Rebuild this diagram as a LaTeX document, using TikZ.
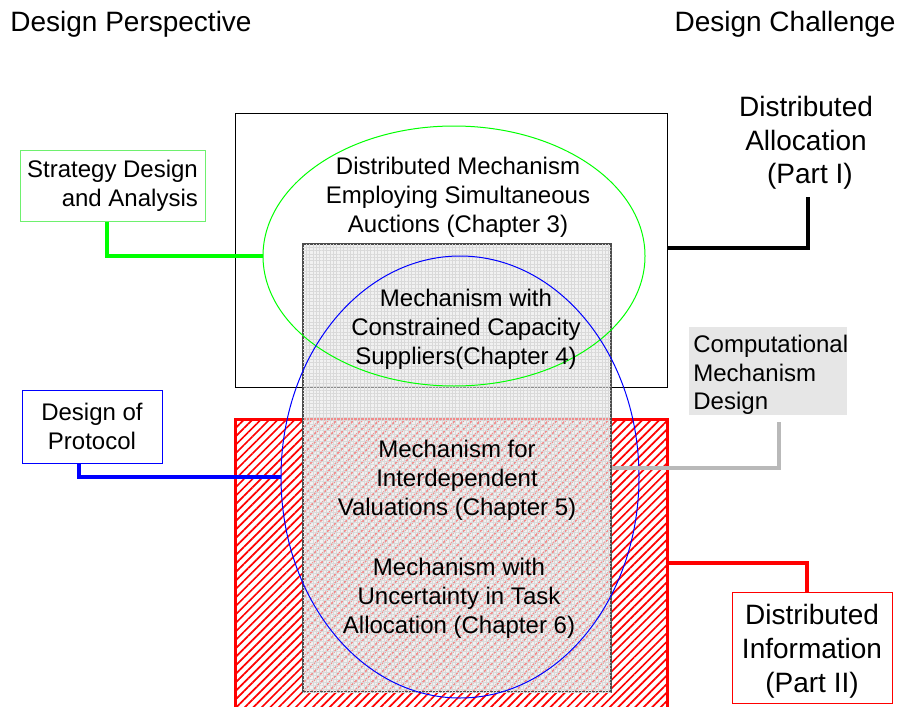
\documentclass[tikz,border=0pt]{standalone}
\usepackage{fontspec}
\setsansfont{Liberation Sans}
\usetikzlibrary{shapes.geometric,patterns.meta,calc}

\definecolor{boxgreen}{RGB}{110,240,110}
\definecolor{linkgray}{RGB}{185,185,185}
\definecolor{compfill}{RGB}{230,230,230}

\begin{document}
\begin{tikzpicture}[x=0.5pt, y=-0.5pt, font=\sffamily\fontsize{12}{14.5}\selectfont,
    txt/.style={inner sep=0pt, align=center},
    big/.style={font=\sffamily\fontsize{14}{16.8}\selectfont},
    link/.style={line width=2pt},
    part/.style={rectangle, minimum width=216pt}]
   \clip (0, 0) rectangle (898, 706);

   % the two parts and the chapter areas
   \node[part, draw=red, line width=1.5pt, minimum height=150.5pt,
      pattern={Lines[angle=45,distance=3pt,line width=0.85pt]}, pattern color=red]
      (infopart) at (451, 569.5) {};
   \node[part, draw=black, line width=0.5pt, minimum height=137pt] (allocpart) at (451, 250) {};
   \node[rectangle, draw=black!70, line width=0.8pt, minimum width=154pt, minimum height=224pt,
      fill=gray!18, fill opacity=0.6,
      postaction={pattern={Hatch[angle=0,distance=1.7pt,line width=0.2pt]}, pattern color=gray!30}]
      (capac) at (457, 468) {};
   \node[ellipse, draw=green, line width=0.5pt, minimum width=191pt, minimum height=130pt,
      inner sep=0pt] (simult) at (454, 256) {};
   \node[ellipse, draw=blue, line width=0.5pt, minimum width=179pt, minimum height=221pt,
      inner sep=0pt] (interdep) at (460, 477) {};

   % chapter texts
   \node[txt] (ch3) at (458, 197) {Distributed Mechanism\\Employing Simultaneous\\Auctions (Chapter 3)};
   \node[txt] (ch4) at (466, 329) {Mechanism with\\Constrained Capacity\\Suppliers(Chapter 4)};
   \node[txt] (ch5) at (457, 480) {Mechanism for\\Interdependent\\Valuations (Chapter 5)};
   \node[txt] (ch6) at (459, 598) {Mechanism with\\Uncertainty in Task\\Allocation (Chapter 6)};

   % headings
   \node[txt, big, anchor=west] (persp) at (10, 24) {Design Perspective};
   \node[txt, big, anchor=east] (chall) at (896, 24) {Design Challenge};

   % perspective boxes
   \node[draw=boxgreen, line width=0.5pt, align=right, minimum width=92.5pt,
      minimum height=35.5pt, inner sep=0pt] (strat) at (112.5, 185.5) {Strategy Design\\and Analysis};
   \node[draw=blue, line width=0.5pt, minimum width=70pt, minimum height=36.5pt, align=center,
      inner sep=0pt] (proto) at (92, 426.5) {Design of\\Protocol};
   \node[fill=compfill, minimum width=79pt, minimum height=44pt, inner sep=0pt] (comp) at (768, 371) {};
   \node[txt, align=left, anchor=west, font=\sffamily\fontsize{12}{14.25}\selectfont]
      (comptext) at (693, 375) {Computational\\Mechanism\\Design};

   % challenge labels
   \node[txt, big] (alloc) at (806, 143) {Distributed\\Allocation\\\ (Part I)};
   \node[draw=red, line width=0.5pt, big, minimum width=80pt, minimum height=55.5pt, align=center,
      inner sep=0pt] (distinfo) at (812, 647.5) {\\[-3pt]Distributed\\Information\\(Part II)};

   % connectors
   \coordinate (gknee) at (107, 256);
   \coordinate (bknee) at (79, 477);
   \coordinate (cknee) at (779, 468);
   \coordinate (rknee) at (807, 563);
   \coordinate (aend) at (808, 197);
   \draw[link, green] (gknee |- strat.south) -- (gknee) -- (simult.west);
   \draw[link, blue] (bknee |- proto.south) -- (bknee) -- (interdep.west);
   \draw[link, linkgray] ($(cknee |- comp.south)+(0, 7)$) -- (cknee) -- (capac.east);
   \draw[link, red] (infopart.east |- rknee) -- (rknee) -- (rknee |- distinfo.north);
   \draw[link, black] (allocpart.east |- 0, 248) -| (aend);

\end{tikzpicture}
\end{document}
